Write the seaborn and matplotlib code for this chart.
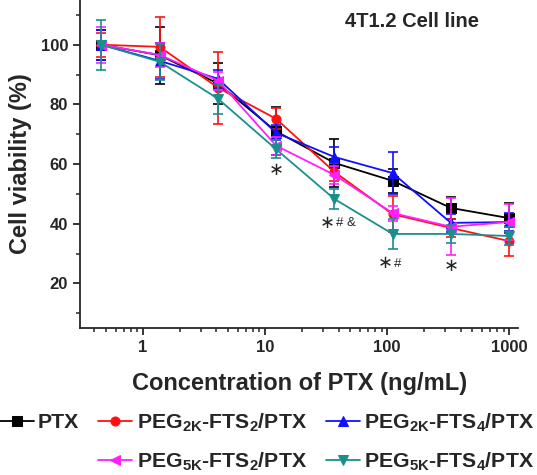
import numpy as np
import pandas as pd
import seaborn as sns
import matplotlib.pyplot as plt
from matplotlib.lines import Line2D
from matplotlib.ticker import FixedLocator, NullFormatter

# PTX concentrations (ng/mL)
conc = [0.457, 1.37, 4.12, 12.3, 37.0, 111.0, 333.0, 1000.0]

# mean cell viability (%)
ptx = [100, 96.5, 87, 71, 60.4, 54.4, 45.3, 41.9]
peg2k_fts2 = [100, 99.3, 85.6, 75.2, 57.4, 43.2, 38.6, 34.2]
peg2k_fts4 = [100, 94.6, 88.6, 70.5, 62.4, 57.0, 40.3, 40.6]
peg5k_fts2 = [100, 96.6, 88.0, 66.2, 56.4, 43.6, 39.0, 40.6]
peg5k_fts4 = [100, 94.3, 81.9, 65.0, 48.3, 36.6, 36.6, 35.9]

# standard deviations
ptx_sd = [5, 9.5, 7, 8, 8, 4, 3.7, 5]
peg2k_fts2_sd = [4, 10, 12, 3.5, 3, 6, 3, 5]
peg2k_fts4_sd = [5, 6, 3, 2.5, 3.5, 7, 3, 3]
peg5k_fts2_sd = [6, 4, 3, 3, 3, 2.5, 9.5, 6]
peg5k_fts4_sd = [8.4, 6, 5, 3, 3.5, 5, 3, 3]

labels = [r'PTX',
          r'PEG$_{\mathbf{2K}}$-FTS$_{\mathbf{2}}$/PTX',
          r'PEG$_{\mathbf{2K}}$-FTS$_{\mathbf{4}}$/PTX',
          r'PEG$_{\mathbf{5K}}$-FTS$_{\mathbf{2}}$/PTX',
          r'PEG$_{\mathbf{5K}}$-FTS$_{\mathbf{4}}$/PTX']
means = [ptx, peg2k_fts2, peg2k_fts4, peg5k_fts2, peg5k_fts4]
sds = [ptx_sd, peg2k_fts2_sd, peg2k_fts4_sd, peg5k_fts2_sd, peg5k_fts4_sd]
colors = ['#000000', '#ff1010', '#1010ff', '#ff20ff', '#1a8f8f']
markers = ['s', 'o', '^', '<', 'v']

# significance marks
sig_x = [12.3, 37.0, 111.0, 333.0]
sig_y = [58.1, 40.3, 26.8, 25.8]
sig_extra = ['', '# &', '#', '']

sns.set_style('ticks')
plt.rcParams['font.family'] = ['Liberation Sans', 'DejaVu Sans']
plt.rcParams['font.weight'] = 'bold'
plt.rcParams['mathtext.fontset'] = 'custom'
plt.rcParams['mathtext.rm'] = 'Liberation Sans:bold'
plt.rcParams['mathtext.bf'] = 'Liberation Sans:bold'

fig = plt.figure(figsize=(5.37, 4.75), dpi=100)
ax = fig.add_axes([0.149, 0.309, 0.816, 0.691])

for lab, m, sd, c, mk in zip(labels, means, sds, colors, markers):
    df = pd.DataFrame({'conc': conc, 'viability': m})
    sns.lineplot(data=df, x='conc', y='viability', color=c, marker=mk,
                 markersize=6.5, markeredgecolor=c, linewidth=1.3, label=lab, ax=ax)
    ax.errorbar(conc, m, yerr=sd, fmt='none', ecolor=c, elinewidth=1.2,
                capsize=3.5, capthick=1.2)

ax.set_xscale('log')
ax.set_xlim(0.305, 1185)
ax.set_ylim(5, 115)
ax.set_yticks([20, 40, 60, 80, 100])
ax.yaxis.set_minor_locator(FixedLocator([10, 30, 50, 70, 90, 110]))
ax.set_xticks([1, 10, 100, 1000])
ax.set_xticklabels(['1', '10', '100', '1000'])
ax.xaxis.set_minor_formatter(NullFormatter())
ax.tick_params(axis='both', which='major', labelsize=12, length=5, width=1.3, direction='out')
ax.tick_params(axis='both', which='minor', length=3, width=1.1, direction='out')
for lbl in ax.get_xticklabels() + ax.get_yticklabels():
    lbl.set_fontweight('bold')
sns.despine(ax=ax)
for sp in ['left', 'bottom']:
    ax.spines[sp].set_linewidth(1.3)

ax.set_xlabel('Concentration of PTX (ng/mL)', fontsize=17, fontweight='bold', labelpad=12)
ax.set_ylabel('Cell viability (%)', fontsize=17, fontweight='bold', labelpad=6)
ax.text(0.605, 0.933, '4T1.2 Cell line', transform=ax.transAxes, fontsize=14.5,
        fontweight='bold', ha='left', va='center')

for x, y, extra in zip(sig_x, sig_y, sig_extra):
    sx = x if not extra else x * 0.87
    ax.text(sx, y, '\u2217', fontsize=13, ha='center', va='center',
            fontweight='normal', family='DejaVu Sans')
    if extra:
        ax.text(x * 1.03, y - 0.2, extra, fontsize=9.5, ha='left', va='center',
                fontweight='normal')

handles, labs = ax.get_legend_handles_labels()
ax.get_legend().remove()
blank = Line2D([], [], linestyle='none', marker=None)
order_h = [handles[0], blank, handles[1], handles[3], handles[2], handles[4]]
order_l = [labs[0], '', labs[1], labs[3], labs[2], labs[4]]
fig.legend(order_h, order_l, ncol=3, loc='lower center', bbox_to_anchor=(0.497, -0.037),
           frameon=False, handlelength=1.6, handletextpad=0.2,
           columnspacing=0.9, labelspacing=0.8, prop={'weight': 'bold', 'size': 15.3})

fig.savefig('out.png', dpi=100)
